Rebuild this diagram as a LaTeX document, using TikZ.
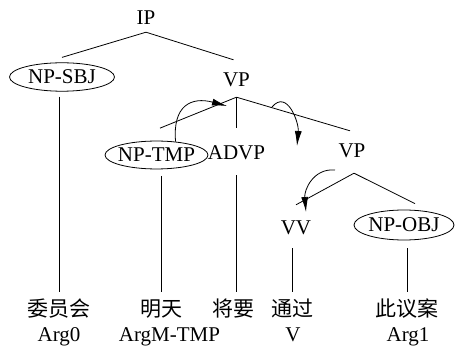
\documentclass[tikz,border=0pt]{standalone}
\usepackage{fontspec}
\setmainfont{Liberation Serif}
\newfontfamily\cjk{Noto Sans CJK SC}
\usetikzlibrary{shapes}
\usetikzlibrary{arrows.meta}
\tikzset{
    tag/.style = {inner sep=0pt, text height=14pt, text depth=0pt, anchor=base},
    tagc/.style = {ellipse, draw=black, line width=0.8pt, inner xsep=-3pt, inner ysep=3pt, minimum height=28pt},
    word/.style = {inner sep=0pt, text height=14pt, text depth=0pt, anchor=base, font=\cjk},
    branch/.style = {line width=0.8pt, black},
    move/.style = {-{Latex[length=15pt,width=7pt]}, line width=0.8pt, black}, % argument moves
    every picture/.style={execute at begin picture={\fontsize{21pt}{25pt}\selectfont}}
}

\begin{document}
\begin{tikzpicture}[x=10pt, y=10pt]
\useasboundingbox (0,0) rectangle (45.6,34.6);
%
\node[tag] at (14.6, 32.1) (ip) {IP};
\node[tagc, minimum width=105pt] at (6.2, 26.9) (sbj) {NP-SBJ};
\node[tag] at (23.65, 25.9) (vp) {VP};
\node[tagc, minimum width=103pt, minimum height=27pt] at (15.65, 19.1) (tmp) {NP-TMP};
\node[tag] at (23.65, 18.6) (advp) {ADVP};
\node[tag] at (35.2, 18.8) (vpb) {VP};
\node[tag] at (29.6, 11.1) (vv) {VV};
\node[tagc, minimum width=100pt, minimum height=30pt] at (40.4, 12.1) (obj) {NP-OBJ};
%
\node[word] at (5.9, 3.0) (w1) {委员会};
\node[word] at (16.1, 3.0) (w2) {明天};
\node[word] at (23.3, 3.0) (w3) {将要};
\node[word] at (29.2, 3.0) (w4) {通过};
\node[word] at (40.7, 3.0) (w5) {此议案};
\node[tag] at (5.9, 0.4) (r1) {Arg0};
\node[tag] at (16.95, 0.4) (r2) {ArgM-TMP};
\node[tag] at (29.3, 0.4) (r4) {V};
\node[tag] at (40.8, 0.4) (r5) {Arg1};
%
\draw[branch] ([yshift=-7pt]ip.south) -- ([yshift=5pt]sbj.north);
\draw[branch] ([yshift=-7pt]ip.south) -- ([xshift=-3pt,yshift=13pt]vp.north);
\draw[branch] ([yshift=-10pt]vp.south) -- ([xshift=3.5pt,yshift=12.5pt]tmp.north);
\draw[branch] ([yshift=-10pt]vp.south) -- ([yshift=18pt]advp.north);
\draw[branch] ([yshift=-10pt]vp.south) -- ([xshift=-2pt,yshift=13pt]vpb.north);
\draw[branch] ([xshift=2pt,yshift=-15pt]vpb.south) -- ([yshift=16pt]vv.north);
\draw[branch] ([xshift=2pt,yshift=-15pt]vpb.south) -- ([xshift=11pt,yshift=6pt]obj.north);
%
\draw[branch, shorten <=5pt, shorten >=10pt] (w1.north |- sbj.south) -- (w1.north);
\draw[branch, shorten <=6.5pt, shorten >=10pt] (w2.north |- tmp.south) -- (w2.north);
\draw[branch, shorten <=15pt, shorten >=10pt] (advp.south) -- (advp.south |- w3.north);
\draw[branch, shorten <=13pt, shorten >=10pt] (w4.north |- vv.south) -- (w4.north);
\draw[branch, shorten <=8pt, shorten >=10pt] (w5.north |- obj.south) -- (w5.north);
%
\coordinate (t1) at (22.7, 24.0);
\coordinate (s2) at (27.2, 23.9);
\coordinate (t2) at (29.7, 20.0);
\coordinate (s3) at (33.5, 17.6);
\coordinate (t3) at (30.6, 13.4);
\draw[move] (tmp.35) to[out=95, in=165, looseness=1.5] (t1);
\draw[move] (s2) to[out=50, in=85, looseness=1.3] (t2);
\draw[move] (s3) to[out=175, in=95, looseness=1.1] (t3);

\end{tikzpicture}
\end{document}
